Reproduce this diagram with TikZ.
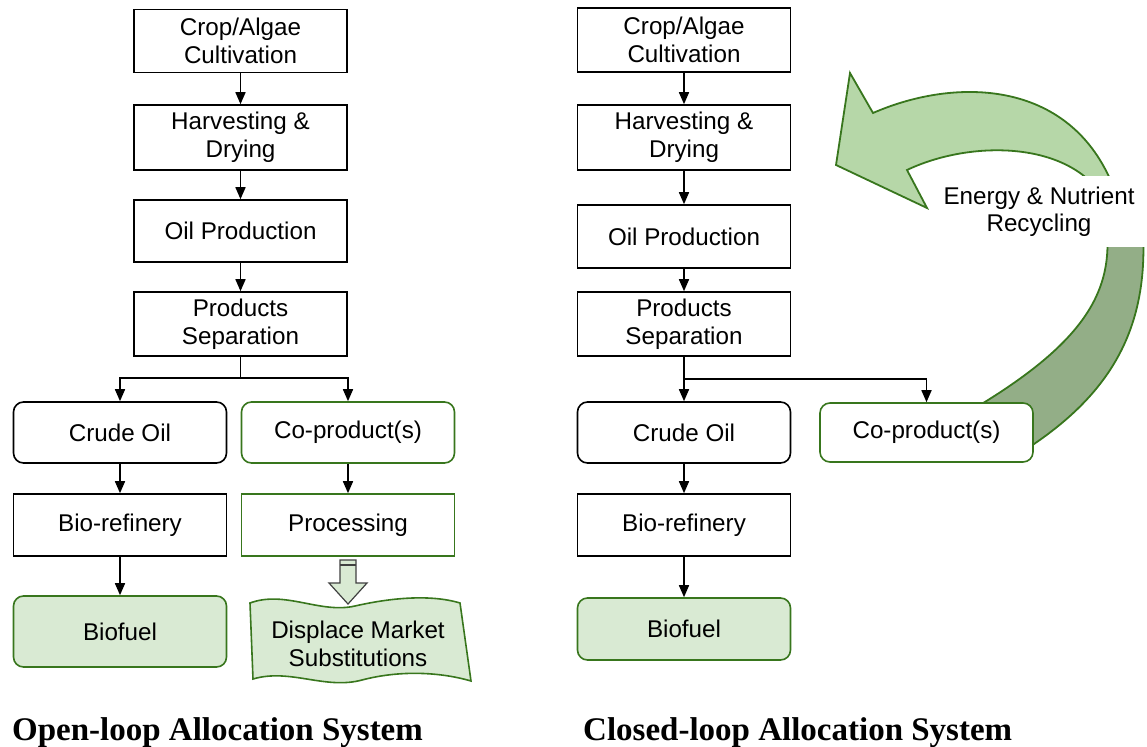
\documentclass[tikz,border=0pt]{standalone}
\usepackage{fontspec}
\setmainfont{Liberation Sans}
\newfontfamily\titlefont{Liberation Serif}
\usetikzlibrary{arrows.meta}
\definecolor{gborder}{HTML}{38761D}
\definecolor{gfill}{HTML}{D9EAD3}
\definecolor{glight}{HTML}{B6D7A8}
\definecolor{gdark}{HTML}{93AE87}
\begin{document}
\begin{tikzpicture}[x=1pt,y=-1pt,
  every node/.style={font=\fontsize{24.2}{28}\selectfont, align=center, inner sep=0pt},
  box/.style={draw=black, line width=1.6pt, fill=white, minimum width=213pt},
  gbox/.style={box, draw=gborder},
  rbox/.style={box, rounded corners=10pt},
  grbox/.style={box, draw=gborder, rounded corners=10pt},
  fbox/.style={box, draw=gborder, fill=gfill, rounded corners=10pt},
  arr/.style={line width=1.6pt, -{Triangle[width=10pt,length=12pt]}},
  ln/.style={line width=1.6pt},
  bigarrow/.style={draw=gborder, line width=1.8pt},
  title/.style={anchor=base west, font=\titlefont\bfseries\fontsize{33}{33}\selectfont}
]
\useasboundingbox (0,0) rectangle (1147,746);

% ---- recycling arrow (closed loop)
\filldraw[bigarrow, fill=gdark] (1143,232) .. controls (1148,330) and (1110,395) .. (1025,450)
  -- (975,408) .. controls (1080,345) and (1112,295) .. (1107,232) -- cycle;
\filldraw[bigarrow, fill=glight] (873,113) .. controls (960,75) and (1080,80) .. (1118,200)
  -- (1105,200) .. controls (1070,140) and (970,140) .. (907,170)
  -- (927,208) -- (836,165) -- (850,73) -- cycle;
\node[fill=white, minimum width=210pt, minimum height=71pt] (en) at (1042,211.5) {};
\node[font=\fontsize{24.2}{27}\selectfont] (entext) at (1039,212) {Energy \& Nutrient\\Recycling};

% ---- open loop
\node[box, minimum height=63pt] (c1) at (240.5,41) {Crop/Algae\\Cultivation};
\node[box, minimum height=65pt] (h1) at (240.5,137.5) {Harvesting \&\\Drying};
\node[box, minimum height=62pt] (o1) at (240.5,231) {Oil Production};
\node[box, minimum height=64pt] (p1) at (240.5,324) {Products\\Separation};
\node[rbox, minimum height=61pt] (cr1) at (120,432.5) {Crude Oil};
\node[grbox, minimum height=61pt] (co1) at (348,432.5) {Co-product(s)};
\node[box, minimum height=62pt] (b1) at (120,525) {Bio-refinery};
\node[gbox, minimum height=62pt] (pr1) at (348,525) {Processing};
\node[fbox, minimum height=71pt] (bf1) at (120,631.5) {Biofuel};

\draw[arr] (c1) -- (h1);
\draw[arr] (h1) -- (o1);
\draw[arr] (o1) -- (p1);
\coordinate (j1) at (240.5,378);
\draw[ln] (p1) -- (j1);
\draw[arr] (j1) -| (cr1);
\draw[arr] (j1) -| (co1);
\draw[arr] (cr1) -- (b1);
\draw[arr] (co1) -- (pr1);
\draw[arr] (b1) -- (bf1);

% wavy market box
\filldraw[draw=gborder, fill=gfill, line width=1.6pt]
  (250,603) .. controls (285,590) and (320,614) .. (355,606)
  .. controls (390,598) and (430,594) .. (460,603)
  -- (471,681) .. controls (440,672) and (400,670) .. (362,680)
  .. controls (325,690) and (290,668) .. (253,679) -- cycle;
\node (ds) at (358,644) {Displace Market\\Substitutions};
% hollow arrow
\filldraw[draw=black!75, fill=gfill, line width=1.2pt]
  (340,560) -- (356,560) -- (356,583) -- (367,583) -- (348,604) -- (329,583) -- (340,583) -- cycle;
\draw[black!75, line width=1.2pt] (340,565) -- (356,565);

% ---- closed loop
\node[box, minimum height=64pt] (c2) at (684,40) {Crop/Algae\\Cultivation};
\node[box, minimum height=65pt] (h2) at (684,137.5) {Harvesting \&\\Drying};
\node[box, minimum height=63pt] (o2) at (684,236.5) {Oil Production};
\node[box, minimum height=64pt] (p2) at (684,324) {Products\\Separation};
\node[rbox, minimum height=61pt] (cr2) at (684,432.5) {Crude Oil};
\node[grbox, minimum height=59pt] (co2) at (926.5,432.5) {Co-product(s)};
\node[box, minimum height=62pt] (b2) at (684,525) {Bio-refinery};
\node[fbox, minimum height=62pt] (bf2) at (684,629) {Biofuel};

\draw[arr] (c2) -- (h2);
\draw[arr] (h2) -- (o2);
\draw[arr] (o2) -- (p2);
\draw[arr] (p2) -- (cr2);
\coordinate (j2) at (684,379);
\draw[arr] (j2) -| (co2);
\draw[arr] (cr2) -- (b2);
\draw[arr] (b2) -- (bf2);

% ---- titles
\node[title] (t1) at (12,740) {Open-loop Allocation System};
\node[title] (t2) at (583,740) {Closed-loop Allocation System};
\end{tikzpicture}
\end{document}
